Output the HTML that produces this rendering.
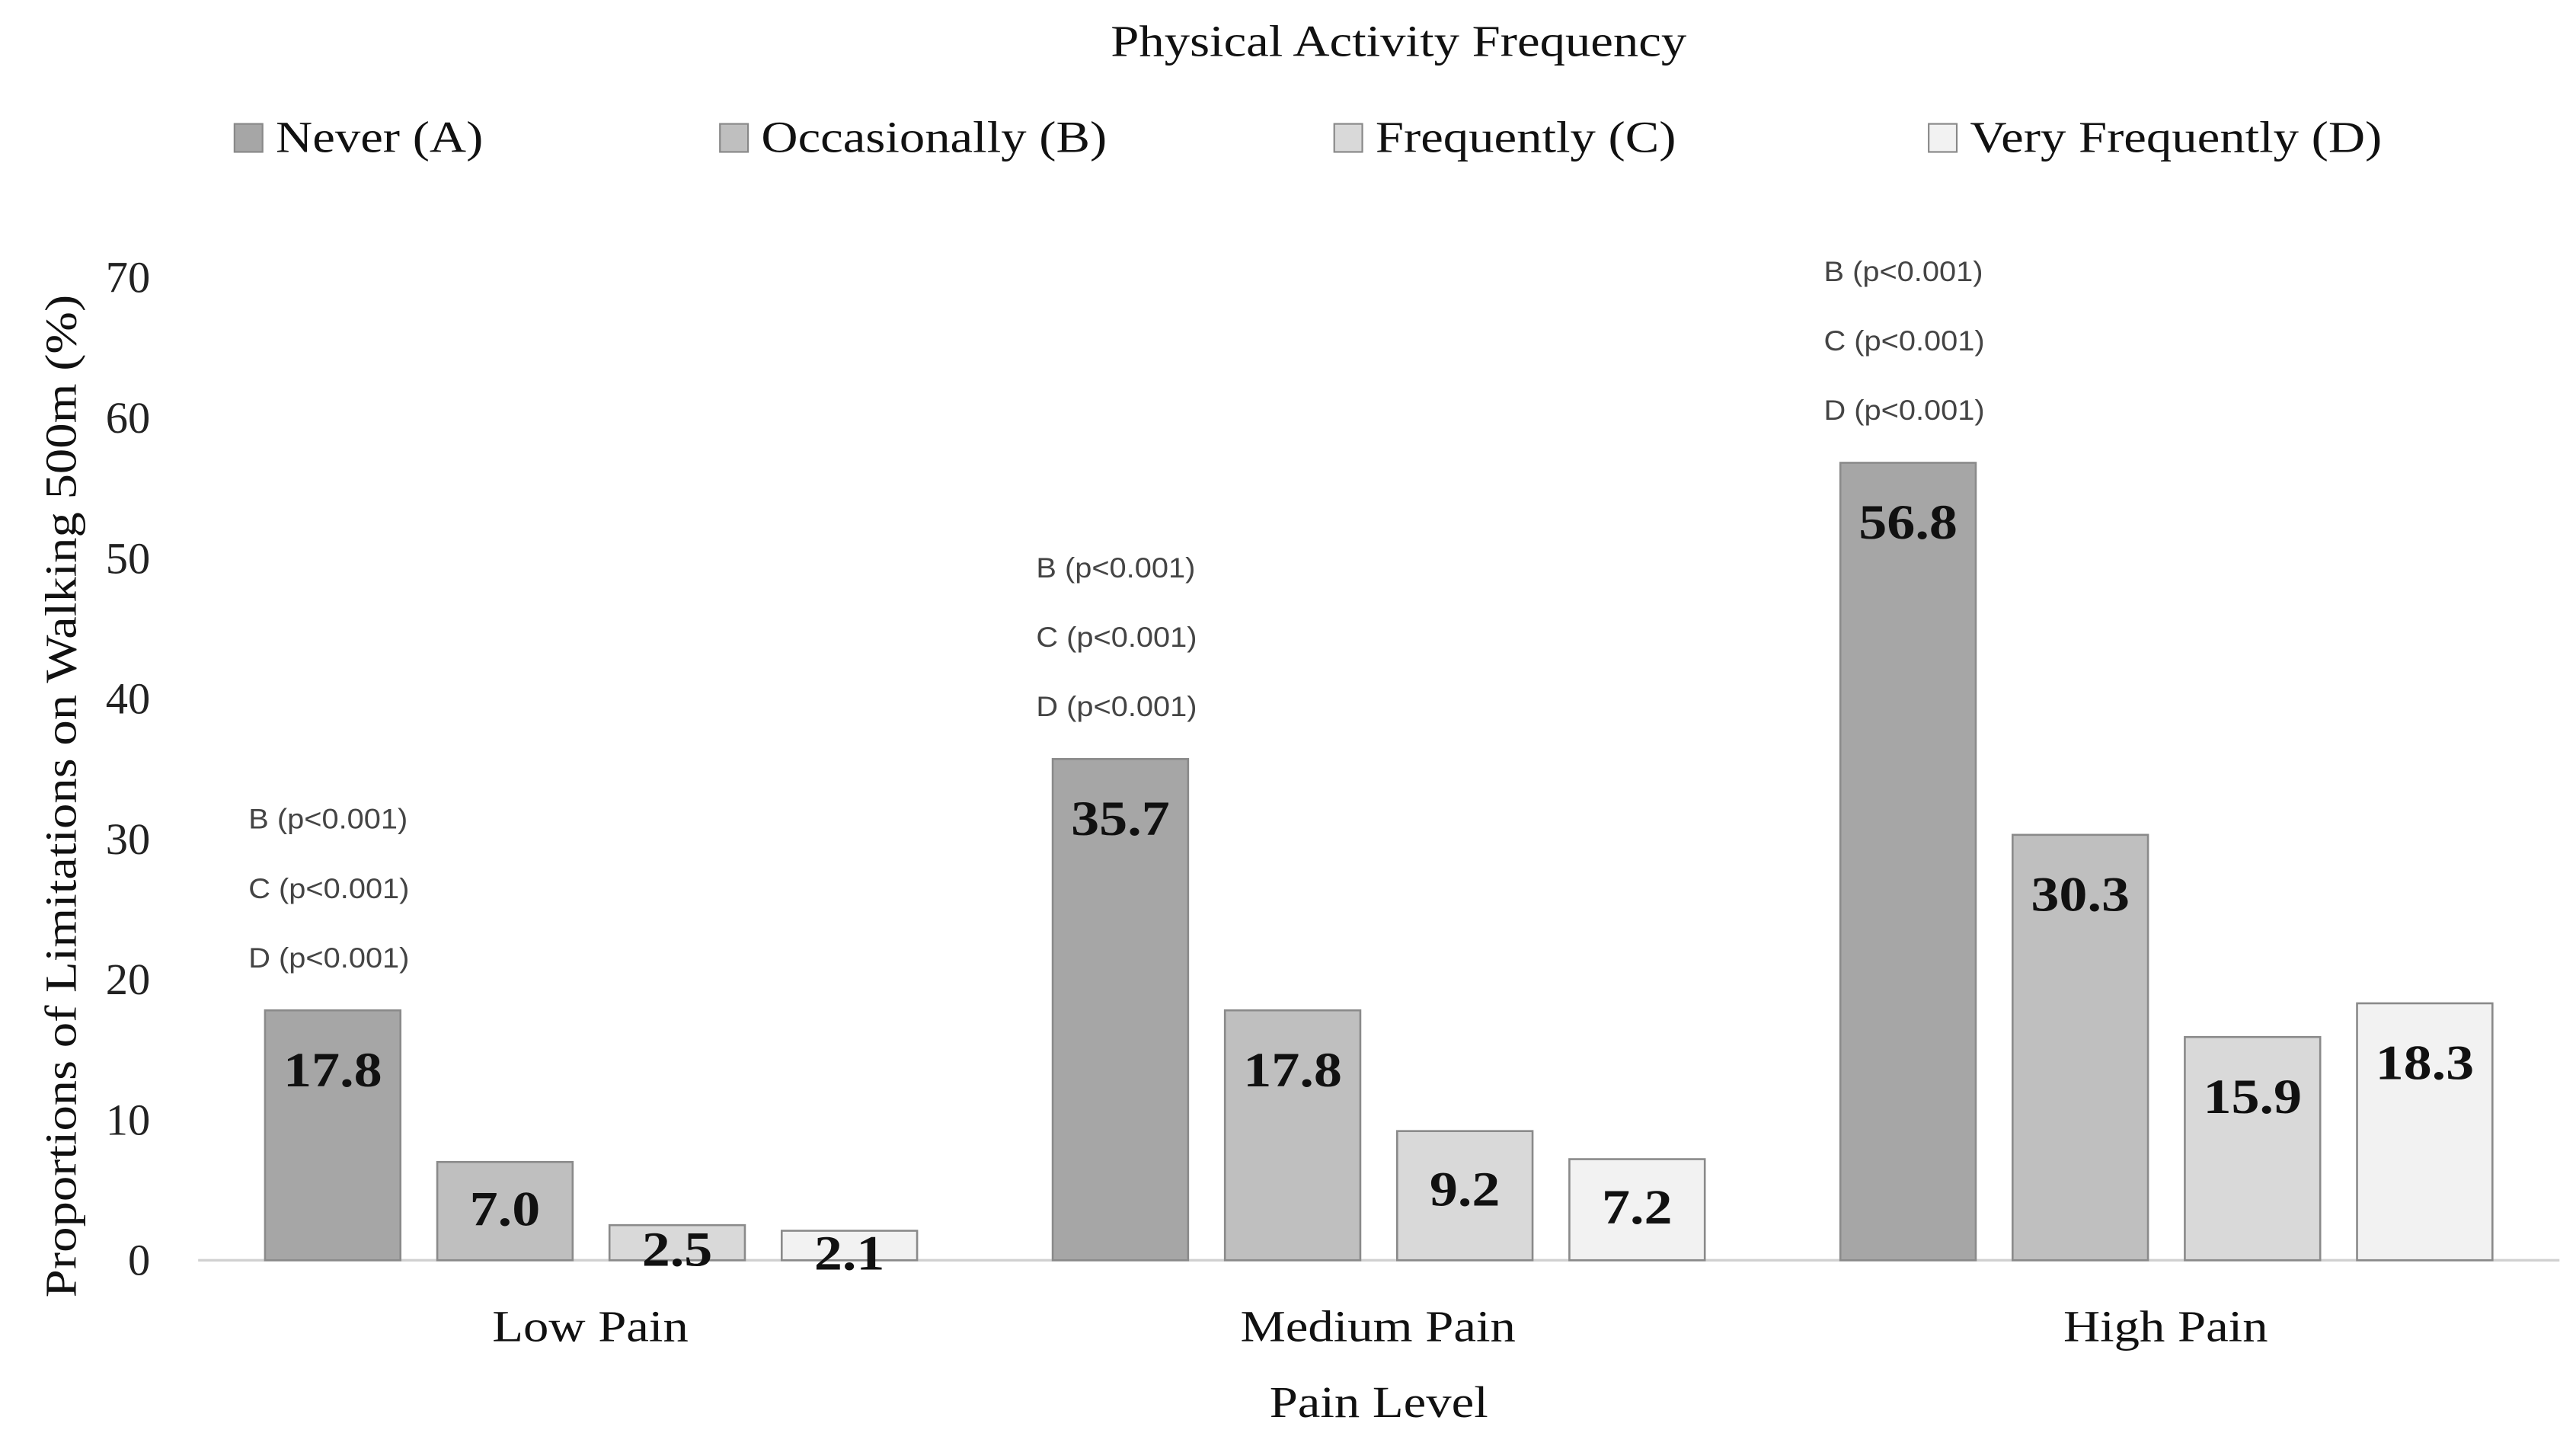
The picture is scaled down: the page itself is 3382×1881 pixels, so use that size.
<!DOCTYPE html>
<html><head><meta charset="utf-8"><style>
html,body{margin:0;padding:0;background:#fff;}
svg{display:block;}
</style></head><body>
<svg id="chart" xmlns="http://www.w3.org/2000/svg" width="3382" height="1881" viewBox="0 0 1560 867.6" preserveAspectRatio="none" font-family="'Liberation Serif', serif">
<rect width="1560" height="867.6" fill="#fff"/>
<text class="wide" x="847" y="34" text-anchor="middle" font-size="27" fill="#111">Physical Activity Frequency</text>
<g id="legend"></g>
<g id="yaxis"></g>
<g id="bars"></g>
<g id="xaxis"></g>
<text class="wide" x="835" y="858" text-anchor="middle" font-size="27" fill="#111">Pain Level</text>
<text class="wide" transform="translate(46,482) rotate(-90)" text-anchor="middle" font-size="27" fill="#111">Proportions of Limitations on Walking 500m (%)</text>
</svg>
<script>
const categories = ["Low Pain", "Medium Pain", "High Pain"];
const seriesNames = ["Never (A)", "Occasionally (B)", "Frequently (C)", "Very Frequently (D)"];
const seriesA = [17.8, 35.7, 56.8];
const seriesB = [7.0, 17.8, 30.3];
const seriesC = [2.5, 9.2, 15.9];
const seriesD = [2.1, 7.2, 18.3];
const yTicks = [0, 10, 20, 30, 40, 50, 60, 70];
const annotations = ["B (p<0.001)", "C (p<0.001)", "D (p<0.001)"];

const NS = "http://www.w3.org/2000/svg";
const fills = ["#a6a6a6", "#bfbfbf", "#d9d9d9", "#f2f2f2"];
const series = [seriesA, seriesB, seriesC, seriesD];
const y0 = 763, pxPer = 8.5;
const y = v => y0 - v * pxPer;
const groupW = 477, groupStart = 120;
const catCenter = i => groupStart + groupW * (i + 0.5) - 1;
const barW = 82, barStep = 104.3;
const barX = (ci, si) => catCenter(ci) - 197 + si * barStep;

function mk(tag, attrs, parent) {
  const e = document.createElementNS(NS, tag);
  for (const k in attrs) e.setAttribute(k, attrs[k]);
  parent.appendChild(e);
  return e;
}

// legend
const legend = document.getElementById('legend');
const legX = [142, 436, 808, 1168];
seriesNames.forEach((n, i) => {
  const sq = mk('rect', {x: legX[i], y: 75, width: 17, height: 17, fill: fills[i], stroke: '#888', 'stroke-width': 1}, legend);
  
  
  const t = mk('text', {x: legX[i] + 25, y: 92, 'font-size': 27, fill: '#111', class: 'wide'}, legend);
  t.textContent = n;
  
  
});

// y axis
const yaxis = document.getElementById('yaxis');
yTicks.forEach(v => {
  const t = mk('text', {x: 91, y: y(v) + 9, 'text-anchor': 'end', 'font-size': 27, fill: '#222'}, yaxis);
  t.textContent = v;
  
  
});
const base = mk('line', {x1: 120, x2: 1550, y1: y0, y2: y0, stroke: '#d0d0d0', 'stroke-width': 1.5}, yaxis);



// bars
const bars = document.getElementById('bars');
categories.forEach((c, ci) => {
  series.forEach((s, si) => {
    const v = s[ci];
    const top = y(v), h = y0 - top, x = barX(ci, si);
    const r = mk('rect', {x: x, y: top, width: barW, height: h, fill: fills[si], stroke: '#8a8a8a', 'stroke-width': 1.2}, bars);
    
    
    const off = Math.min(36, 7 + h * 0.36);
    const t = mk('text', {x: x + barW / 2, y: top + off + 10, 'text-anchor': 'middle', 'font-size': 30, 'font-weight': 'bold', fill: '#111', class: 'wide'}, bars);
    t.textContent = v.toFixed(1);
    
    
  });
  const topA = y(seriesA[ci]);
  annotations.forEach((a, ai) => {
    const t = mk('text', {x: barX(ci, 0) - 10, y: topA - 116 + ai * 42 + 6, 'font-size': 17, fill: '#444', 'font-family': "'Liberation Sans', sans-serif", class: 'wide2'}, bars);
    t.textContent = a;
    
    
  });
});

// x axis labels
const xaxis = document.getElementById('xaxis');
categories.forEach((c, ci) => {
  const t = mk('text', {x: catCenter(ci), y: 812, 'text-anchor': 'middle', 'font-size': 27, fill: '#111', class: 'wide'}, xaxis);
  t.textContent = c;
  
  
});

// widen serif text to mimic Palatino-like metrics
document.querySelectorAll('text.wide').forEach(t => {
  const w = t.getComputedTextLength();
  t.setAttribute('textLength', (w * 1.14).toFixed(1));
  t.setAttribute('lengthAdjust', 'spacingAndGlyphs');
});
document.querySelectorAll('text.wide2').forEach(t => {
  const w = t.getComputedTextLength();
  t.setAttribute('textLength', (w * 1.08).toFixed(1));
  t.setAttribute('lengthAdjust', 'spacingAndGlyphs');
});
</script>
</body></html>
